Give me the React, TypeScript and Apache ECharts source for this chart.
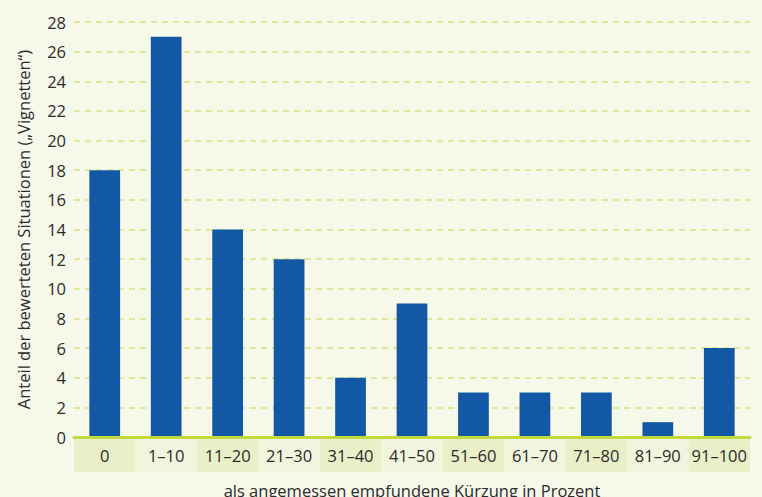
import React, { useEffect, useRef } from "react";
import * as echarts from "echarts";

const categories = ["0", "1–10", "11–20", "21–30", "31–40", "41–50", "51–60", "61–70", "71–80", "81–90", "91–100"];
const values = [18, 27, 14, 12, 4, 9, 3, 3, 3, 1, 6];
const yAxisName = "Anteil der bewerteten Situationen („Vignetten“)";
const xAxisName = "als angemessen empfundene Kürzung in Prozent";

const FONT = "Open Sans";
const TEXT = "#2b2b2b";

export default function App() {
  const ref = useRef<HTMLDivElement>(null);
  useEffect(() => {
    if (!ref.current) return;
    const chart = echarts.init(ref.current, null, { renderer: "svg" });
    chart.setOption({
      animation: false,
      backgroundColor: "#f6f8ea",
      textStyle: { fontFamily: FONT },
      grid: [
        { left: 74, right: 12, top: 22, bottom: 60, containLabel: false, outerBoundsMode: "none" },
        { left: 74, right: 12, top: 438, height: 34, containLabel: false, outerBoundsMode: "none" },
      ],
      xAxis: [
        {
          type: "category",
          gridIndex: 0,
          data: categories,
          z: 5,
          axisLine: { show: true, lineStyle: { color: "#c3d83a", width: 3 } },
          axisTick: { show: false },
          axisLabel: { color: TEXT, fontSize: 16.5, fontFamily: FONT, margin: 10, interval: 0 },
          name: xAxisName,
          nameLocation: "middle",
          nameGap: 45,
          nameTextStyle: { color: TEXT, fontSize: 16.5, fontFamily: FONT, verticalAlign: "top" },
        },
        {
          type: "category",
          gridIndex: 1,
          data: categories,
          axisLine: { show: false },
          axisTick: { show: false },
          axisLabel: { show: false },
          splitLine: { show: false },
          splitArea: { show: true, interval: 0, areaStyle: { color: ["#e9f0c8", "#f1f5dd"] } },
        },
      ],
      yAxis: [
        {
          type: "value",
          gridIndex: 0,
          min: 0,
          max: 28,
          interval: 2,
          axisLine: { show: false },
          axisTick: { show: false },
          axisLabel: { color: TEXT, fontSize: 16.5, fontFamily: FONT, margin: 8 },
          splitLine: { show: true, lineStyle: { color: "#d3e47f", width: 1.5, type: [6, 5] } },
          name: yAxisName,
          nameLocation: "middle",
          nameGap: 42,
          nameRotate: 90,
          nameTextStyle: { color: TEXT, fontSize: 16.5, fontFamily: FONT },
        },
        {
          type: "value",
          gridIndex: 1,
          show: false,
        },
      ],
      series: [
        {
          type: "bar",
          xAxisIndex: 0,
          yAxisIndex: 0,
          data: values,
          barWidth: "50%",
          itemStyle: { color: "#1358a4" },
        },
      ],
    });
    return () => chart.dispose();
  }, []);
  return <div ref={ref} style={{ width: 762, height: 497, position: "absolute", left: 0, top: 0 }} />;
}
